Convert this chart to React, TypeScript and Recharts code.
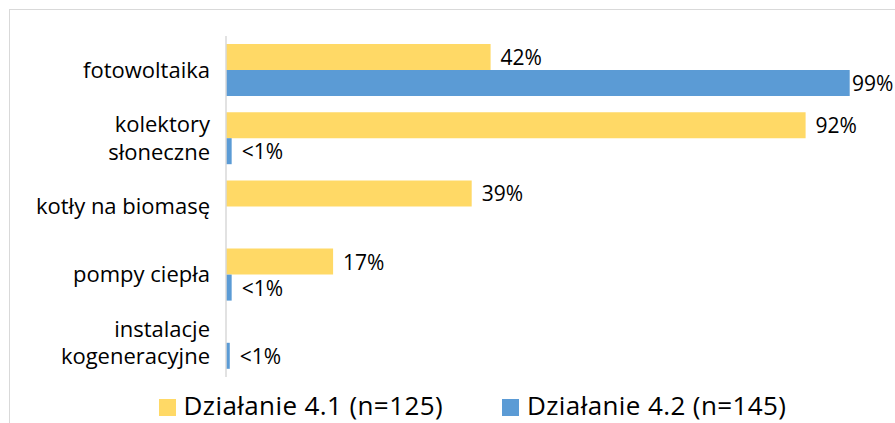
import React from 'react';
import { BarChart, Bar, XAxis, YAxis, Legend, LabelList } from 'recharts';

const categories = ['fotowoltaika', 'kolektory\nsłoneczne', 'kotły na biomasę', 'pompy ciepła', 'instalacje\nkogeneracyjne'];
const dzialanie41 = [42, 92, 39, 17, null];
const dzialanie42 = [99, 0.9, null, 0.9, 0.6];
const seriesNames = ['Działanie 4.1 (n=125)', 'Działanie 4.2 (n=145)'];
const colors = ['#FFD966', '#5B9BD5'];

const data = categories.map((name, i) => ({ name, d41: dzialanie41[i], d42: dzialanie42[i] }));

const FONT = '"Open Sans", sans-serif';

const CategoryTick = (props: any) => {
  const { x, y, payload } = props;
  const lines: string[] = String(payload.value).split('\n');
  return (
    <text x={x} y={y} textAnchor="end" fill="#000" fontSize={22} fontFamily={FONT}>
      {lines.map((line, i) => (
        <tspan key={i} x={x} dy={i === 0 ? `${0.35 - (lines.length - 1) * 0.62}em` : '1.24em'}>
          {line}
        </tspan>
      ))}
    </text>
  );
};

const ValueLabel = (props: any) => {
  const { x, y, width, height, value } = props;
  if (value === null || value === undefined) return null;
  const text = value < 1 ? '<1%' : `${value}%`;
  // keep the label inside the chart frame, like the original
  const tx = Math.min(x + width + 10, 852);
  return (
    <text x={tx} y={y + height / 2} dominantBaseline="central" fill="#000" fontSize={21} fontFamily={FONT}>
      {text}
    </text>
  );
};

const LegendContent = () => (
  <div style={{ display: 'flex', justifyContent: 'center', paddingLeft: 50, fontFamily: FONT, fontSize: 26, letterSpacing: 0.4, lineHeight: '26px', color: '#000' }}>
    {seriesNames.map((s, i) => (
      <div key={s} style={{ display: 'flex', alignItems: 'center', marginRight: i === 0 ? 59 : 0 }}>
        <span style={{ width: 17, height: 17, background: colors[i], display: 'inline-block', marginRight: 8, marginTop: 4 }} />
        <span>{s}</span>
      </div>
    ))}
  </div>
);

export default function App() {
  return (
    <div style={{ position: 'absolute', left: 0, top: 0, width: 895, height: 423, overflow: 'hidden', background: '#fff' }}>
      <div style={{ position: 'absolute', left: 9, top: 9, width: 900, height: 430, border: '1px solid #D9D9D9' }} />
      <div style={{ position: 'absolute', left: 0, top: 0 }}>
        <BarChart
          width={895}
          height={423}
          data={data}
          layout="vertical"
          margin={{ top: 36, right: 39, bottom: 46, left: 0 }}
          barGap={0}
          barCategoryGap={8}
        >
          <XAxis type="number" domain={[0, 100]} hide />
          <YAxis
            type="category"
            dataKey="name"
            width={226}
            axisLine={{ stroke: '#D9D9D9', strokeWidth: 1.5 }}
            tickLine={false}
            tickSize={0}
            tickMargin={16}
            tick={<CategoryTick />}
            interval={0}
          />
          <Legend
            layout="horizontal"
            verticalAlign="middle"
            align="center"
            wrapperStyle={{ top: 392, left: 0, width: 895, height: 26 }}
            content={<LegendContent />}
          />
          <Bar dataKey="d41" name={seriesNames[0]} fill={colors[0]} barSize={26} isAnimationActive={false}>
            <LabelList dataKey="d41" content={<ValueLabel />} />
          </Bar>
          <Bar dataKey="d42" name={seriesNames[1]} fill={colors[1]} barSize={26} isAnimationActive={false}>
            <LabelList dataKey="d42" content={<ValueLabel />} />
          </Bar>
        </BarChart>
      </div>
    </div>
  );
}
